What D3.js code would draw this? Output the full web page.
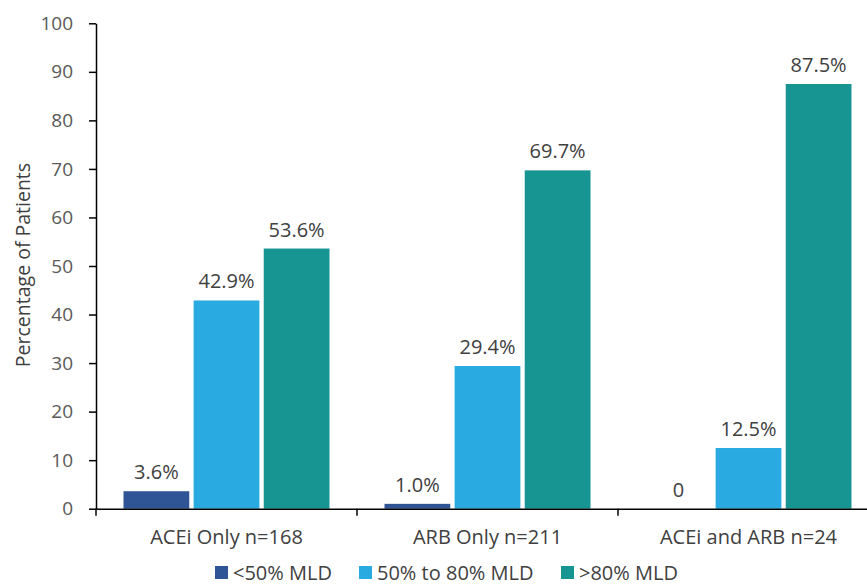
<!DOCTYPE html>
<html>
<head>
<meta charset="utf-8">
<script src="https://cdn.jsdelivr.net/npm/d3@7"></script>
<style>
  body { margin: 0; background: #fff; }
  svg { display: block; font-family: "Open Sans", Lato, sans-serif; }
</style>
</head>
<body>
<svg id="chart" width="867" height="586"></svg>
<script>
// data
const categories = ['ACEi Only n=168', 'ARB Only n=211', 'ACEi and ARB n=24'];
const seriesNames = ['<50% MLD', '50% to 80% MLD', '>80% MLD'];
const below50 = [3.6, 1.0, 0];
const mid50to80 = [42.9, 29.4, 12.5];
const above80 = [53.6, 69.7, 87.5];
const valueLabels = [
    ['3.6%', '1.0%', '0'],
    ['42.9%', '29.4%', '12.5%'],
    ['53.6%', '69.7%', '87.5%']
];
const yTicks = [0, 10, 20, 30, 40, 50, 60, 70, 80, 90, 100];

const colors = ['#2F5597', '#29ABE2', '#179592'];
const series = [below50, mid50to80, above80];

const svg = d3.select('#chart');
const margin = { left: 96, top: 23.3, bottom: 508.7 };
const groupW = 261;

const x0 = d3.scaleBand()
    .domain(categories)
    .range([margin.left, margin.left + groupW * categories.length])
    .padding(0);

const x1 = d3.scaleBand()
    .domain(seriesNames)
    .range([27.5, groupW - 27.5])
    .paddingInner(0.062)
    .paddingOuter(0);

const y = d3.scaleLinear()
    .domain([0, 100])
    .range([margin.bottom, margin.top]);

// bars
const groups = svg.append('g')
    .selectAll('g')
    .data(categories)
    .join('g')
    .attr('transform', d => `translate(${x0(d)},0)`);

groups.selectAll('rect')
    .data((c, ci) => seriesNames.map((s, si) => ({ s, si, v: series[si][ci] })))
    .join('rect')
    .attr('x', d => x1(d.s))
    .attr('y', d => y(d.v))
    .attr('width', x1.bandwidth())
    .attr('height', d => y(0) - y(d.v))
    .attr('fill', d => colors[d.si]);

groups.selectAll('text')
    .data((c, ci) => seriesNames.map((s, si) => ({ s, si, v: series[si][ci], label: valueLabels[si][ci] })))
    .join('text')
    .attr('x', d => x1(d.s) + x1.bandwidth() / 2)
    .attr('y', d => y(d.v) - 12)
    .attr('text-anchor', 'middle')
    .attr('font-size', '20px')
    .attr('fill', '#404040')
    .text(d => d.label);

// y axis
const yAxis = svg.append('g')
    .attr('transform', `translate(${margin.left},0)`)
    .call(d3.axisLeft(y).tickValues(yTicks).tickSize(7).tickSizeOuter(0).tickPadding(16));
yAxis.select('.domain').attr('stroke', '#000').attr('stroke-width', 1.5);
yAxis.selectAll('.tick line').attr('stroke', '#000').attr('stroke-width', 1.5);
yAxis.selectAll('.tick text')
    .attr('font-size', '19px')
    .attr('font-family', '"Open Sans", sans-serif')
    .attr('fill', '#595959');

// x axis
const xAxis = svg.append('g')
    .attr('transform', `translate(0,${margin.bottom})`)
    .call(d3.axisBottom(x0).tickSize(0).tickPadding(21));
xAxis.select('.domain').attr('stroke', '#000').attr('stroke-width', 1.5);
xAxis.selectAll('.tick text')
    .attr('font-size', '20px')
    .attr('font-family', '"Open Sans", sans-serif')
    .attr('fill', '#404040');

// category separators
svg.append('g')
    .selectAll('line')
    .data(d3.range(categories.length + 1))
    .join('line')
    .attr('x1', i => margin.left + i * groupW)
    .attr('x2', i => margin.left + i * groupW)
    .attr('y1', margin.bottom)
    .attr('y2', margin.bottom + 7)
    .attr('stroke', '#000')
    .attr('stroke-width', 1.5);

// y title
svg.append('text')
    .attr('transform', `translate(30,265) rotate(-90)`)
    .attr('text-anchor', 'middle')
    .attr('font-size', '19.5px')
    .attr('fill', '#404040')
    .text('Percentage of Patients');

// legend (nudged up a little so the text is not clipped by the bottom edge)
const legendX = [215, 359, 561];
const legend = svg.append('g')
    .selectAll('g')
    .data(seriesNames)
    .join('g')
    .attr('transform', (d, i) => `translate(${legendX[i]},566)`);
legend.append('rect')
    .attr('width', 13)
    .attr('height', 13)
    .attr('fill', (d, i) => colors[i]);
legend.append('text')
    .attr('x', 18)
    .attr('y', 13.5)
    .attr('font-size', '20px')
    .attr('fill', '#404040')
    .text(d => d);
</script>
</body>
</html>
